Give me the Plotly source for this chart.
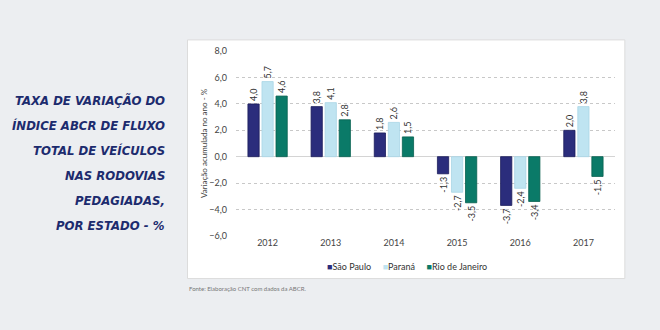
import plotly.graph_objects as go

years = ["2012", "2013", "2014", "2015", "2016", "2017"]
sao_paulo = [4.0, 3.8, 1.8, -1.3, -3.7, 2.0]
parana = [5.7, 4.1, 2.6, -2.7, -2.4, 3.8]
rio = [4.6, 2.8, 1.5, -3.5, -3.4, -1.5]
series_names = ["São Paulo", "Paraná", "Rio de Janeiro"]
colors = ["#2b2d7c", "#bfe4f1", "#0a7a68"]
line_colors = ["#1a1c5a", "#aad6e6", "#06604f"]
y_ticks = [-6, -4, -2, 0, 2, 4, 6, 8]
title_lines = ["TAXA DE VARIAÇÃO DO", "ÍNDICE ABCR DE FLUXO", "TOTAL DE VEÍCULOS",
               "NAS RODOVIAS", "PEDAGIADAS,", "POR ESTADO - %"]

fig = go.Figure()
for name, vals, c, lc in zip(series_names, [sao_paulo, parana, rio], colors, line_colors):
    fig.add_trace(go.Bar(
        x=years, y=vals, name=name,
        marker=dict(color=c, line=dict(color=lc, width=0.8)),
        text=[f"{v:.1f}".replace(".", ",") for v in vals],
        textposition="outside", textangle=-90, constraintext="none",
        textfont=dict(size=9, color="#333333", family="Lato"),
        cliponaxis=False,
    ))

legend_html = "     ".join(
    f"<span style='color:{c}'>■</span>{n}" for n, c in zip(series_names, colors)
)

annotations = []
for i, line in enumerate(title_lines):
    annotations.append(dict(
        text=line, xref="paper", yref="paper",
        x=-0.183, y=1 - (100 + 25 * i - 51) / 185, xanchor="right", yanchor="middle",
        showarrow=False,
        font=dict(family="DejaVu Sans Condensed, Roboto, sans-serif", size=13,
                  color="#1c2b6e", weight="bold", style="italic")))
annotations += [
    dict(text=legend_html, xref="paper", yref="paper",
         x=0.45, y=-0.165, xanchor="center", yanchor="middle", showarrow=False,
         font=dict(size=9, color="#333333")),
    dict(text="Fonte: Elaboração CNT com dados da ABCR.", xref="paper", yref="paper",
         x=-0.128, y=-0.255, xanchor="left", yanchor="top", showarrow=False,
         font=dict(size=6, color="#777777")),
]

fig.update_layout(
    width=660, height=330,
    margin=dict(l=236, r=45, t=51, b=94),
    paper_bgcolor="#eceef1", plot_bgcolor="white",
    barmode="group", bargap=0.333, bargroupgap=0.2,
    separators=",.",
    font=dict(family="Lato", color="#444444"),
    showlegend=False,
    xaxis=dict(showgrid=False, tickfont=dict(size=9, color="#444444"), ticks="",
               showline=False, zeroline=False),
    yaxis=dict(range=[-6.02, 8.02], tickvals=y_ticks, tickformat=".1f",
               tickfont=dict(size=9, color="#444444"),
               showgrid=True, gridcolor="#c8c8c8", griddash="dot", gridwidth=1,
               zeroline=True, zerolinecolor="#d4d4d4", zerolinewidth=1,
               title=dict(text="Variação acumulada no ano - %", font=dict(size=8, color="#444444"), standoff=0),
               ticklabelstandoff=8),
    shapes=[dict(type="rect", xref="paper", yref="paper", layer="below",
                 x0=-0.128, x1=1.026, y0=-0.23, y1=1.06,
                 fillcolor="white", line=dict(color="#dcdcdc", width=1))],
    annotations=annotations,
)

fig.write_html("out.html")
